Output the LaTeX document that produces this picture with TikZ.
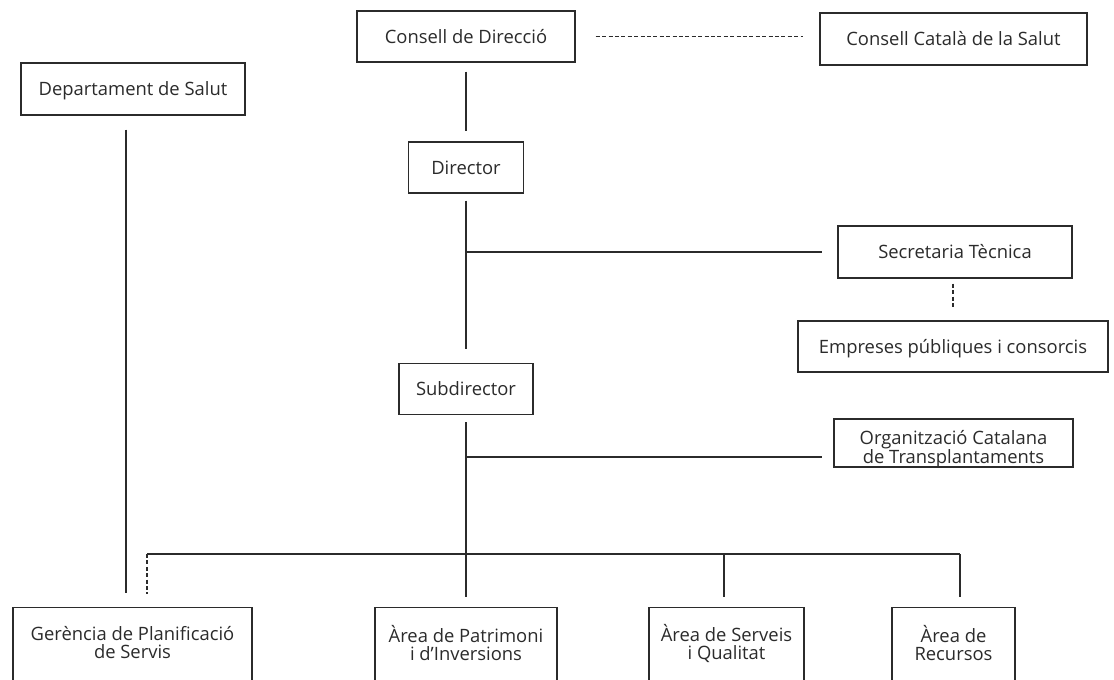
\documentclass[tikz,border=0pt]{standalone}
\usepackage{fontspec}
\setmainfont{Open Sans}
\usetikzlibrary{calc}
\definecolor{ink}{HTML}{2B2B2B}
\begin{document}
\begin{tikzpicture}[x=1pt,y=-1pt,
  box/.style={draw=ink, line width=1.4pt, rectangle, inner sep=0pt, text=ink,
    font=\fontsize{18.4}{18}\selectfont, text height=13pt, text depth=0pt},
  txt/.style={inner sep=0pt, text=ink, align=center, font=\fontsize{18.4}{18}\selectfont},
  conn/.style={draw=ink, line width=1.1pt},
  dline/.style={conn, dash pattern=on 4pt off 2.4pt}]
\useasboundingbox (0,0) rectangle (1114,680);
\clip (0,0) rectangle (1114,680);
\fill[white] (0,0) rectangle (1114,680);

% top level
\node[box, minimum width=218pt, minimum height=51pt] (cd) at (466,36.5) {Consell de Direcció};
\node[box, minimum width=267pt, minimum height=52pt] (cc) at (953.5,39) {Consell Català de la Salut};
\node[box, minimum width=224pt, minimum height=52pt] (ds) at (133,89) {Departament de Salut};
\node[box, minimum width=115pt, minimum height=51pt] (dir) at (466,167.5) {Director};
\node[box, minimum width=234pt, minimum height=52pt] (st) at (955,252) {Secretaria Tècnica};
\node[box, minimum width=310pt, minimum height=51pt] (emp) at (953,346.5) {Empreses públiques i consorcis};
\node[box, minimum width=134pt, minimum height=51pt] (sub) at (466,389) {Subdirector};
\node[box, minimum width=239pt, minimum height=48pt] (oct) at (953.5,443) {};
\node[txt] (octt) at (953.5,449) {Organització Catalana\\de Transplantaments};

% bottom boxes (open at the bottom of the picture)
\node[box, anchor=north, minimum width=239pt, minimum height=120pt] (ger) at (132.5,607) {};
\node[box, anchor=north, minimum width=182pt, minimum height=120pt] (pat) at (466,607) {};
\node[box, anchor=north, minimum width=155pt, minimum height=120pt] (ser) at (726.5,607) {};
\node[box, anchor=north, minimum width=123pt, minimum height=120pt] (rec) at (953.5,607) {};
\node[txt] (gert) at (132.5,643) {Gerència de Planificació\\de Servis};
\node[txt] (patt) at (466,643) {Àrea de Patrimoni\\i d’Inversions};
\node[txt] (sert) at (726.5,643) {Àrea de Serveis\\i Qualitat};
\node[txt] (rect) at (953.5,643) {Àrea de\\Recursos};

% connectors
\draw[dline, shorten <=20pt, shorten >=16pt] (cd.east) -- (cd.east -| cc.west);
\draw[conn, shorten <=9pt, shorten >=10pt] (cd.south) -- (dir.north);
\draw[conn, shorten <=7pt, shorten >=14pt] (dir.south) -- (sub.north);
\coordinate (j1) at (dir.south |- st.west);
\draw[conn, shorten >=15pt] (j1) -- (st.west);
\draw[dline, shorten <=5pt, shorten >=12pt] (emp.north |- st.south) -- (emp.north);
\coordinate (j2) at (466,457);
\draw[conn, shorten >=11pt] (j2) -- (j2 -| oct.west);
\draw[conn, shorten <=7pt, shorten >=10pt] (sub.south) -- (pat.north);
\coordinate (bl) at (147,554);
\coordinate (br) at (960,554);
\draw[conn] (bl) -- (br);
\draw[conn, shorten >=10pt] (br) -- (br |- rec.north);
\draw[conn, shorten >=10pt] ([xshift=-2.5pt]ser.north |- bl) -- ([xshift=-2.5pt]ser.north);
\draw[dline] (bl) -- ([xshift=14.5pt, yshift=13pt]ger.north);
\draw[conn] ([xshift=-7pt,yshift=-14pt]ds.south) -- ([xshift=-6.5pt,yshift=14pt]ger.north);
\end{tikzpicture}
\end{document}
